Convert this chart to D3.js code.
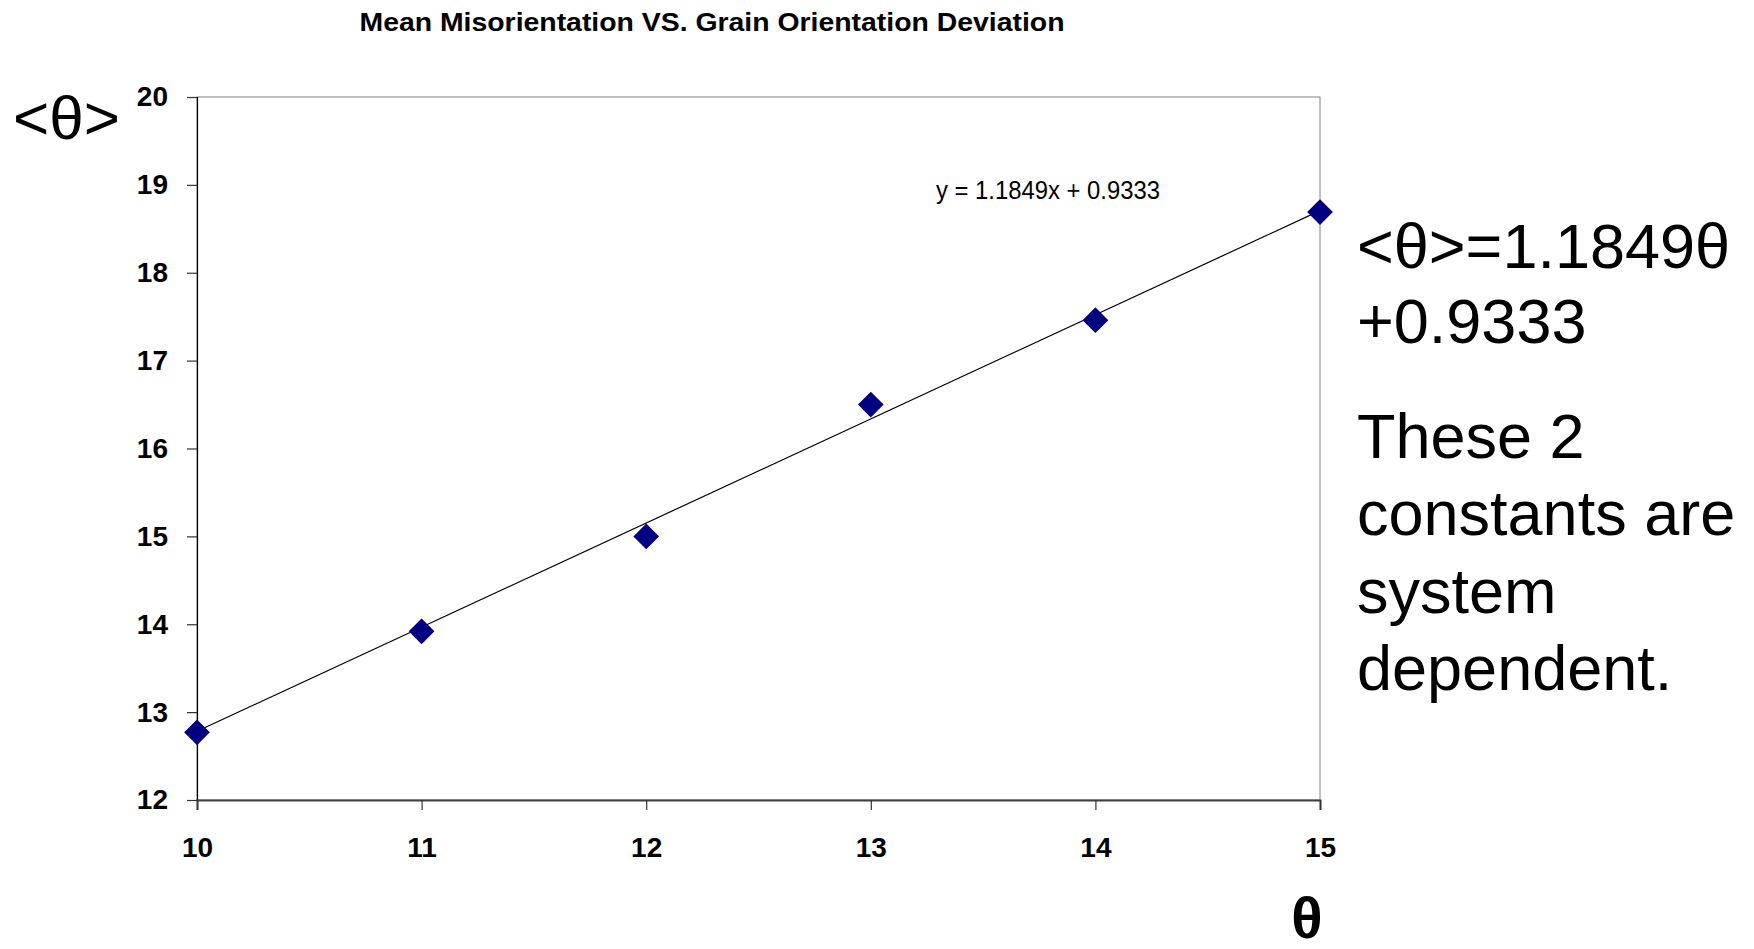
<!DOCTYPE html>
<html>
<head>
<meta charset="utf-8">
<script src="https://cdn.jsdelivr.net/npm/d3@7"></script>
<style>
  html, body { margin: 0; padding: 0; background: #fff; }
  svg { display: block; }
</style>
</head>
<body>
<svg id="chart" width="1754" height="949"></svg>
<script>
// ---- Data ----
const xValues = [10, 11, 12, 13, 14, 15];
const yValues = [12.77, 13.92, 15.0, 16.5, 17.46, 18.69];
const xTicks = [10, 11, 12, 13, 14, 15];
const yTicks = [12, 13, 14, 15, 16, 17, 18, 19, 20];
const trendSlope = 1.1849;
const trendIntercept = 0.9333;
const chartTitle = "Mean Misorientation VS. Grain Orientation Deviation";
const trendLabel = "y = 1.1849x + 0.9333";
const yAxisLabel = "<θ>";
const xAxisLabel = "θ";
const noteEquation = ["<θ>=1.1849θ", "+0.9333"];
const noteText = ["These 2", "constants are", "system", "dependent."];

// ---- Layout ----
const svg = d3.select("#chart");
const plot = { left: 197, right: 1320, top: 97, bottom: 800 };
const FONT = "'Liberation Sans', Arial, sans-serif";

const x = d3.scaleLinear().domain([10, 15]).range([plot.left, plot.right]);
const y = d3.scaleLinear().domain([12, 20]).range([plot.bottom, plot.top]);

// plot area border (top/right gray)
svg.append("rect")
  .attr("x", plot.left).attr("y", plot.top)
  .attr("width", plot.right - plot.left).attr("height", plot.bottom - plot.top)
  .attr("fill", "none").attr("stroke", "#808080").attr("stroke-width", 1);

// y axis
const yAxis = svg.append("g")
  .attr("transform", `translate(${plot.left},0)`)
  .call(d3.axisLeft(y).tickValues(yTicks).tickSize(10).tickPadding(19).tickFormat(d3.format("d")));
yAxis.select(".domain").attr("stroke", "#000").attr("stroke-width", 1.2);
yAxis.selectAll(".tick line").attr("stroke", "#333").attr("stroke-width", 1.2);
yAxis.selectAll(".tick text")
  .attr("font-family", FONT).attr("font-weight", "bold").attr("font-size", 28).attr("fill", "#000");

// x axis
const xAxis = svg.append("g")
  .attr("transform", `translate(0,${plot.bottom})`)
  .call(d3.axisBottom(x).tickValues(xTicks).tickSize(10).tickPadding(27).tickFormat(d3.format("d")));
xAxis.select(".domain").attr("stroke", "#404040").attr("stroke-width", 2);
xAxis.selectAll(".tick line").attr("stroke", "#333").attr("stroke-width", 1.2);
xAxis.selectAll(".tick text")
  .attr("font-family", FONT).attr("font-weight", "bold").attr("font-size", 28).attr("fill", "#000");

// trend line
const trendLine = d3.line().x(d => x(d)).y(d => y(trendSlope * d + trendIntercept));
svg.append("path")
  .datum([xValues[0], xValues[xValues.length - 1]])
  .attr("d", trendLine)
  .attr("fill", "none").attr("stroke", "#000").attr("stroke-width", 1.2);

// markers
const diamond = d3.symbol().type(d3.symbolSquare).size(330);
svg.append("g").selectAll("path")
  .data(xValues.map((v, i) => [v, yValues[i]]))
  .join("path")
  .attr("d", diamond)
  .attr("transform", d => `translate(${x(d[0])},${y(d[1])}) rotate(45)`)
  .attr("fill", "#000080");

// title
svg.append("text")
  .attr("x", 712).attr("y", 31)
  .attr("text-anchor", "middle")
  .attr("font-family", FONT).attr("font-weight", "bold").attr("font-size", 26)
  .attr("textLength", 705).attr("lengthAdjust", "spacingAndGlyphs")
  .text(chartTitle);

// trendline label
svg.append("text")
  .attr("x", 936).attr("y", 199)
  .attr("font-family", FONT).attr("font-size", 25)
  .attr("textLength", 224).attr("lengthAdjust", "spacingAndGlyphs")
  .text(trendLabel);

// axis labels
svg.append("text")
  .attr("x", 13).attr("y", 139)
  .attr("font-family", FONT).attr("font-size", 62)
  .text(yAxisLabel);

svg.append("text")
  .attr("x", 1307).attr("y", 938)
  .attr("text-anchor", "middle")
  .attr("font-family", FONT).attr("font-weight", "bold").attr("font-size", 58)
  .text(xAxisLabel);

// side notes
const noteX = 1357;
const eqBaselines = [268, 343];
const textBaselines = [458, 535, 613, 690];
svg.append("g").selectAll("text")
  .data(noteEquation)
  .join("text")
  .attr("x", noteX).attr("y", (d, i) => eqBaselines[i])
  .attr("font-family", FONT).attr("font-size", 63)
  .text(d => d);
svg.append("g").selectAll("text")
  .data(noteText)
  .join("text")
  .attr("x", noteX).attr("y", (d, i) => textBaselines[i])
  .attr("font-family", FONT).attr("font-size", 63)
  .text(d => d);
</script>
</body>
</html>
